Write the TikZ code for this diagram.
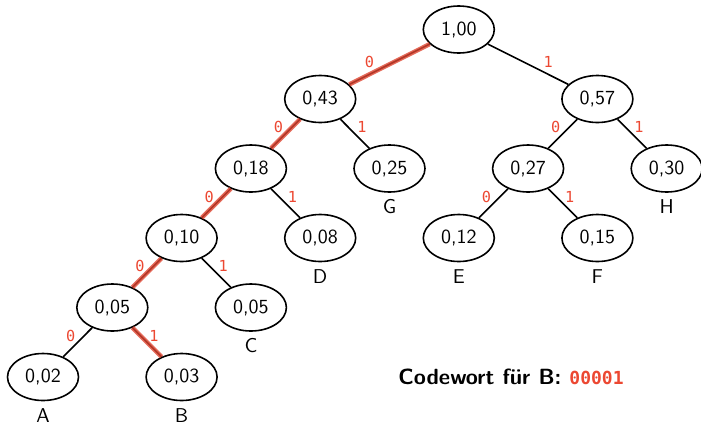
\documentclass[tikz,border=0pt]{standalone}
\usepackage{fontspec}
\usepackage{xcolor}
\usepackage{tikz}
\usetikzlibrary{shapes.geometric}

\newfontfamily\bitfont{DejaVu Sans Mono}
\definecolor{hl}{RGB}{222,68,48}
\definecolor{bitred}{RGB}{236,72,50}

\begin{document}
\begin{tikzpicture}[x=34.65pt, y=-34.75pt, every node/.style={font=\sffamily}]

% Define styles
\tikzstyle{prob} = [draw, thick, ellipse, minimum width=35.5pt, minimum height=23.5pt, inner sep=0pt, fill=white, label distance=2pt]
\tikzstyle{branch} = [draw=black, thick]
\tikzstyle{marked} = [draw=hl, line width=2.2pt, opacity=0.8]
\tikzstyle{bit} = [text=bitred, font=\bitfont\fontsize{7.6}{9}\selectfont, inner sep=0pt]
\tikzstyle{bitl} = [bit, xshift=-3.5pt, yshift=3.25pt]
\tikzstyle{bitr} = [bit, xshift=3.5pt, yshift=3.25pt]

\useasboundingbox (-0.6205,-0.4245) rectangle (9.495,5.719);

% Tree nodes
\node[prob] (n100) at (6,0) {1,00};
\node[prob] (n043) at (4,1) {0,43};
\node[prob] (n057) at (8,1) {0,57};
\node[prob] (n018) at (3,2) {0,18};
\node[prob, label=below:G] (n025) at (5,2) {0,25};
\node[prob] (n027) at (7,2) {0,27};
\node[prob, label=below:H] (n030) at (9,2) {0,30};
\node[prob] (n010) at (2,3) {0,10};
\node[prob, label=below:D] (n008) at (4,3) {0,08};
\node[prob, label=below:E] (n012) at (6,3) {0,12};
\node[prob, label=below:F] (n015) at (8,3) {0,15};
\node[prob] (n005) at (1,4) {0,05};
\node[prob, label=below:C] (n005c) at (3,4) {0,05};
\node[prob, label=below:A] (n002) at (0,5) {0,02};
\node[prob, label=below:B] (n003) at (2,5) {0,03};

% Branches
\draw[branch] (n100) -- node[bit, xshift=-10pt, yshift=0.9pt] {0} (n043);
\draw[branch] (n100) -- node[bit, xshift=10pt, yshift=0.9pt] {1} (n057);
\draw[branch] (n043) -- node[bitl] {0} (n018);
\draw[branch] (n043) -- node[bitr] {1} (n025);
\draw[branch] (n057) -- node[bitl] {0} (n027);
\draw[branch] (n057) -- node[bitr] {1} (n030);
\draw[branch] (n018) -- node[bitl] {0} (n010);
\draw[branch] (n018) -- node[bitr] {1} (n008);
\draw[branch] (n027) -- node[bitl] {0} (n012);
\draw[branch] (n027) -- node[bitr] {1} (n015);
\draw[branch] (n010) -- node[bitl] {0} (n005);
\draw[branch] (n010) -- node[bitr] {1} (n005c);
\draw[branch] (n005) -- node[bitl] {0} (n002);
\draw[branch] (n005) -- node[bitr] {1} (n003);

% Code path for B
\draw[marked] (n100) -- (n043);
\draw[marked] (n043) -- (n018);
\draw[marked] (n018) -- (n010);
\draw[marked] (n010) -- (n005);
\draw[marked] (n005) -- (n003);

% Codeword
\node[anchor=west, inner sep=0pt, font=\sffamily\bfseries\fontsize{11}{13}\selectfont] (code) at (5.123,5) {Codewort für B: \textcolor{bitred}{\bitfont\bfseries\fontsize{9}{10}\selectfont 00001}};

\end{tikzpicture}
\end{document}
